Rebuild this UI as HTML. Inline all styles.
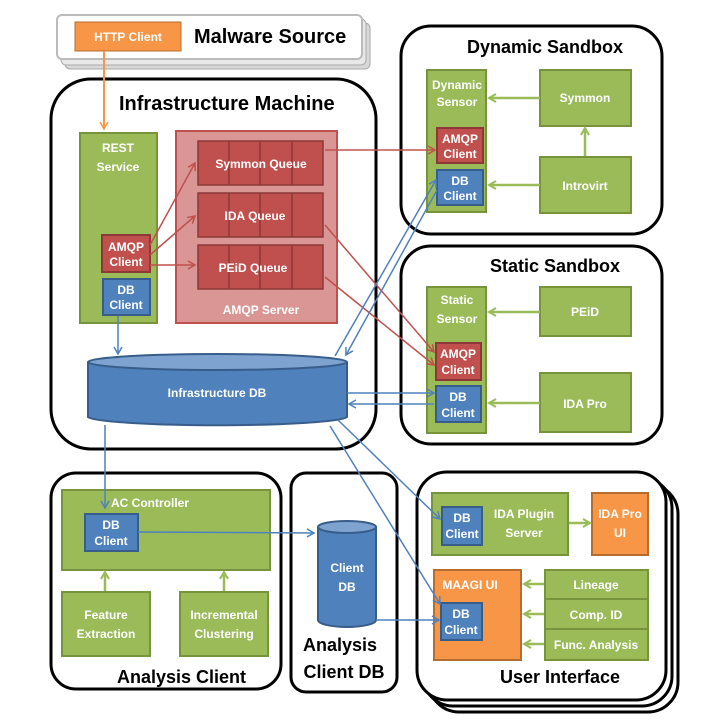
<!DOCTYPE html>
<html><head><meta charset="utf-8"><style>
body{margin:0;background:#fff}
svg text{font-family:"Liberation Sans",sans-serif;font-weight:bold}
.w{fill:#fff;font-size:12px}
.t{fill:#000}
</style></head><body>
<svg width="716" height="720" viewBox="0 0 716 720" xmlns="http://www.w3.org/2000/svg">
<defs>
<marker id="ab" markerWidth="10" markerHeight="10" refX="8" refY="5" orient="auto" markerUnits="userSpaceOnUse"><path d="M1,1 L8,5 L1,9" fill="none" stroke="#4f81bd" stroke-width="1.5"/></marker>
<marker id="ar" markerWidth="10" markerHeight="10" refX="8" refY="5" orient="auto" markerUnits="userSpaceOnUse"><path d="M1,1 L8,5 L1,9" fill="none" stroke="#c0504d" stroke-width="1.5"/></marker>
<marker id="ag" markerWidth="10" markerHeight="10" refX="8" refY="5" orient="auto" markerUnits="userSpaceOnUse"><path d="M1,1 L8,5 L1,9" fill="none" stroke="#9bbb59" stroke-width="2"/></marker>
<marker id="ao" markerWidth="10" markerHeight="10" refX="8" refY="5" orient="auto" markerUnits="userSpaceOnUse"><path d="M1,1 L8,5 L1,9" fill="none" stroke="#f79646" stroke-width="1.5"/></marker>
</defs>

<!-- Malware source -->
<rect x="65" y="23" width="305" height="46" rx="5" fill="#d8d8d8" stroke="#aaa"/>
<rect x="61" y="19" width="305" height="46" rx="5" fill="#e8e8e8" stroke="#aaa"/>
<rect x="57" y="15" width="305" height="44" rx="5" fill="#fff" stroke="#bbb" stroke-width="2"/>
<rect x="75" y="22" width="106" height="29" fill="#f79646" stroke="#b66d31"/>
<text x="128" y="41" class="w" text-anchor="middle">HTTP Client</text>
<text x="194" y="43" class="t" font-size="20">Malware Source</text>

<!-- Infrastructure machine -->
<rect x="51" y="79" width="325" height="370" rx="40" fill="#fff" stroke="#000" stroke-width="3"/>
<text x="119" y="110" class="t" font-size="20">Infrastructure Machine</text>
<rect x="80" y="133" width="77" height="190" fill="#9bbb59" stroke="#77933c" stroke-width="2"/>
<text x="118" y="152" class="w" text-anchor="middle">REST</text>
<text x="118" y="171" class="w" text-anchor="middle">Service</text>
<rect x="102" y="235" width="48" height="37" fill="#c0504d" stroke="#8c3836" stroke-width="2"/>
<text x="126" y="251" class="w" text-anchor="middle">AMQP</text>
<text x="126" y="266" class="w" text-anchor="middle">Client</text>
<rect x="103" y="279" width="47" height="36" fill="#4f81bd" stroke="#385d8a" stroke-width="2"/>
<text x="126" y="294" class="w" text-anchor="middle">DB</text>
<text x="126" y="309" class="w" text-anchor="middle">Client</text>

<rect x="176" y="131" width="161" height="192" fill="#d99694" stroke="#c0504d" stroke-width="2"/>
<g fill="#c0504d" stroke="#8c3836" stroke-width="1.5">
<rect x="198" y="141" width="125" height="44"/><rect x="198" y="193" width="125" height="44"/><rect x="198" y="245" width="125" height="44"/>
</g>
<g stroke="#8c3836" stroke-width="1.5">
<line x1="229" y1="141" x2="229" y2="185"/><line x1="260" y1="141" x2="260" y2="185"/><line x1="292" y1="141" x2="292" y2="185"/>
<line x1="229" y1="193" x2="229" y2="237"/><line x1="260" y1="193" x2="260" y2="237"/><line x1="292" y1="193" x2="292" y2="237"/>
<line x1="229" y1="245" x2="229" y2="289"/><line x1="260" y1="245" x2="260" y2="289"/><line x1="292" y1="245" x2="292" y2="289"/>
</g>
<text x="261" y="168" class="w" text-anchor="middle">Symmon Queue</text>
<text x="255" y="220" class="w" text-anchor="middle">IDA Queue</text>
<text x="253" y="272" class="w" text-anchor="middle">PEiD Queue</text>
<text x="261" y="314" class="w" text-anchor="middle" fill="#f2dcdb">AMQP Server</text>

<!-- Infra DB cylinder -->
<path d="M88,362 L88,417 A130,9 0 0 0 347,417 L347,362" fill="#4f81bd" stroke="#385d8a" stroke-width="2"/>
<ellipse cx="217.5" cy="362" rx="129.5" ry="8" fill="#7fa3d1" stroke="#385d8a" stroke-width="2"/>
<text x="217" y="397" class="w" text-anchor="middle">Infrastructure DB</text>

<!-- Dynamic sandbox -->
<rect x="401" y="26" width="261" height="208" rx="30" fill="#fff" stroke="#000" stroke-width="3"/>
<text x="467" y="53" class="t" font-size="18">Dynamic Sandbox</text>
<rect x="427" y="70" width="59" height="142" fill="#9bbb59" stroke="#77933c" stroke-width="2"/>
<text x="457" y="89" class="w" text-anchor="middle">Dynamic</text>
<text x="457" y="106" class="w" text-anchor="middle">Sensor</text>
<rect x="437" y="128" width="46" height="35" fill="#c0504d" stroke="#8c3836" stroke-width="2"/>
<text x="460" y="143" class="w" text-anchor="middle">AMQP</text>
<text x="460" y="158" class="w" text-anchor="middle">Client</text>
<rect x="437" y="170" width="46" height="35" fill="#4f81bd" stroke="#385d8a" stroke-width="2"/>
<text x="460" y="185" class="w" text-anchor="middle">DB</text>
<text x="460" y="200" class="w" text-anchor="middle">Client</text>
<rect x="540" y="70" width="91" height="56" fill="#9bbb59" stroke="#77933c" stroke-width="2"/>
<text x="585" y="102" class="w" text-anchor="middle">Symmon</text>
<rect x="540" y="157" width="91" height="56" fill="#9bbb59" stroke="#77933c" stroke-width="2"/>
<text x="585" y="190" class="w" text-anchor="middle">Introvirt</text>

<!-- Static sandbox -->
<rect x="401" y="246" width="261" height="198" rx="30" fill="#fff" stroke="#000" stroke-width="3"/>
<text x="490" y="272" class="t" font-size="18">Static Sandbox</text>
<rect x="427" y="287" width="59" height="146" fill="#9bbb59" stroke="#77933c" stroke-width="2"/>
<text x="457" y="304" class="w" text-anchor="middle">Static</text>
<text x="457" y="323" class="w" text-anchor="middle">Sensor</text>
<rect x="436" y="343" width="45" height="37" fill="#c0504d" stroke="#8c3836" stroke-width="2"/>
<text x="458" y="358" class="w" text-anchor="middle">AMQP</text>
<text x="458" y="374" class="w" text-anchor="middle">Client</text>
<rect x="436" y="386" width="45" height="36" fill="#4f81bd" stroke="#385d8a" stroke-width="2"/>
<text x="458" y="401" class="w" text-anchor="middle">DB</text>
<text x="458" y="417" class="w" text-anchor="middle">Client</text>
<rect x="540" y="287" width="91" height="49" fill="#9bbb59" stroke="#77933c" stroke-width="2"/>
<text x="585" y="316" class="w" text-anchor="middle">PEiD</text>
<rect x="540" y="373" width="91" height="59" fill="#9bbb59" stroke="#77933c" stroke-width="2"/>
<text x="585" y="408" class="w" text-anchor="middle">IDA Pro</text>

<!-- Analysis Client -->
<rect x="51" y="473" width="230" height="216" rx="25" fill="#fff" stroke="#000" stroke-width="3"/>
<rect x="62" y="490" width="208" height="80" fill="#9bbb59" stroke="#77933c" stroke-width="2"/>
<text x="150" y="507" class="w" text-anchor="middle">AC Controller</text>
<rect x="85" y="514" width="53" height="37" fill="#4f81bd" stroke="#385d8a" stroke-width="2"/>
<text x="111" y="529" class="w" text-anchor="middle">DB</text>
<text x="111" y="545" class="w" text-anchor="middle">Client</text>
<rect x="62" y="592" width="88" height="64" fill="#9bbb59" stroke="#77933c" stroke-width="2"/>
<text x="106" y="619" class="w" text-anchor="middle">Feature</text>
<text x="106" y="638" class="w" text-anchor="middle">Extraction</text>
<rect x="180" y="592" width="88" height="64" fill="#9bbb59" stroke="#77933c" stroke-width="2"/>
<text x="224" y="619" class="w" text-anchor="middle">Incremental</text>
<text x="224" y="638" class="w" text-anchor="middle">Clustering</text>
<text x="117" y="683" class="t" font-size="18">Analysis Client</text>

<!-- Analysis Client DB -->
<rect x="291" y="473" width="106" height="219" rx="15" fill="#fff" stroke="#000" stroke-width="3"/>
<path d="M318,527 L318,620 A29,7 0 0 0 376,620 L376,527" fill="#4f81bd" stroke="#385d8a" stroke-width="2"/>
<ellipse cx="347" cy="527" rx="29" ry="6" fill="#7fa3d1" stroke="#385d8a" stroke-width="2"/>
<text x="347" y="572" class="w" text-anchor="middle">Client</text>
<text x="347" y="591" class="w" text-anchor="middle">DB</text>
<text x="340" y="651" class="t" font-size="18" text-anchor="middle">Analysis</text>
<text x="344" y="678" class="t" font-size="18" text-anchor="middle">Client  DB</text>

<!-- User Interface -->
<rect x="429" y="484" width="249" height="228" rx="30" fill="#fff" stroke="#000" stroke-width="3"/>
<rect x="423" y="478" width="249" height="228" rx="30" fill="#fff" stroke="#000" stroke-width="3"/>
<rect x="417" y="472" width="249" height="228" rx="30" fill="#fff" stroke="#000" stroke-width="3"/>
<rect x="432" y="493" width="136" height="62" fill="#9bbb59" stroke="#77933c" stroke-width="2"/>
<rect x="442" y="507" width="40" height="38" fill="#4f81bd" stroke="#385d8a" stroke-width="2"/>
<text x="462" y="522" class="w" text-anchor="middle">DB</text>
<text x="462" y="538" class="w" text-anchor="middle">Client</text>
<text x="524" y="518" class="w" text-anchor="middle">IDA Plugin</text>
<text x="524" y="537" class="w" text-anchor="middle">Server</text>
<rect x="592" y="493" width="56" height="62" fill="#f79646" stroke="#b66d31" stroke-width="2"/>
<text x="620" y="518" class="w" text-anchor="middle">IDA Pro</text>
<text x="620" y="537" class="w" text-anchor="middle">UI</text>
<rect x="434" y="570" width="87" height="90" fill="#f79646" stroke="#b66d31" stroke-width="2"/>
<text x="470" y="589" class="w" text-anchor="middle">MAAGI UI</text>
<rect x="441" y="603" width="41" height="37" fill="#4f81bd" stroke="#385d8a" stroke-width="2"/>
<text x="461" y="618" class="w" text-anchor="middle">DB</text>
<text x="461" y="634" class="w" text-anchor="middle">Client</text>
<rect x="545" y="570" width="103" height="90" fill="#9bbb59" stroke="#77933c" stroke-width="2"/>
<line x1="545" y1="599" x2="648" y2="599" stroke="#77933c" stroke-width="2"/>
<line x1="545" y1="629" x2="648" y2="629" stroke="#77933c" stroke-width="2"/>
<text x="596" y="589" class="w" text-anchor="middle">Lineage</text>
<text x="596" y="619" class="w" text-anchor="middle">Comp. ID</text>
<text x="596" y="649" class="w" text-anchor="middle">Func. Analysis</text>
<text x="500" y="683" class="t" font-size="18">User Interface</text>

<!-- arrows -->
<line x1="104" y1="51" x2="104" y2="129" stroke="#f79646" stroke-width="2" marker-end="url(#ao)"/>
<g stroke="#c0504d" stroke-width="1.5" fill="none" marker-end="url(#ar)">
<line x1="150" y1="245" x2="195" y2="163"/>
<line x1="150" y1="255" x2="195" y2="216"/>
<line x1="150" y1="265" x2="195" y2="265"/>
<line x1="325" y1="150" x2="435" y2="150"/>
<line x1="325" y1="225" x2="434" y2="352"/>
<line x1="325" y1="277" x2="434" y2="365"/>
</g>
<g stroke="#4f81bd" stroke-width="1.5" fill="none" marker-end="url(#ab)">
<line x1="118" y1="316" x2="118" y2="354"/>
<line x1="335" y1="356" x2="436" y2="180"/>
<line x1="437" y1="190" x2="346" y2="355"/>
<line x1="347" y1="393" x2="434" y2="393"/>
<line x1="434" y1="404" x2="349" y2="404"/>
<line x1="105" y1="425" x2="105" y2="508"/>
<line x1="138" y1="532" x2="314" y2="533"/>
<line x1="376" y1="620" x2="439" y2="620"/>
<line x1="338" y1="420" x2="440" y2="519"/>
<line x1="330" y1="426" x2="440" y2="604"/>
</g>
<g stroke="#9bbb59" stroke-width="2.5" fill="none" marker-end="url(#ag)">
<line x1="585" y1="156" x2="585" y2="128"/>
<line x1="540" y1="98" x2="489" y2="98"/>
<line x1="540" y1="185" x2="489" y2="185"/>
<line x1="540" y1="312" x2="489" y2="312"/>
<line x1="540" y1="403" x2="489" y2="403"/>
<line x1="105" y1="591" x2="105" y2="572"/>
<line x1="224" y1="591" x2="224" y2="572"/>
<line x1="569" y1="523" x2="590" y2="523"/>
<line x1="544" y1="584" x2="524" y2="584"/>
<line x1="544" y1="614" x2="524" y2="614"/>
<line x1="544" y1="644" x2="524" y2="644"/>
</g>
</svg>
</body></html>
